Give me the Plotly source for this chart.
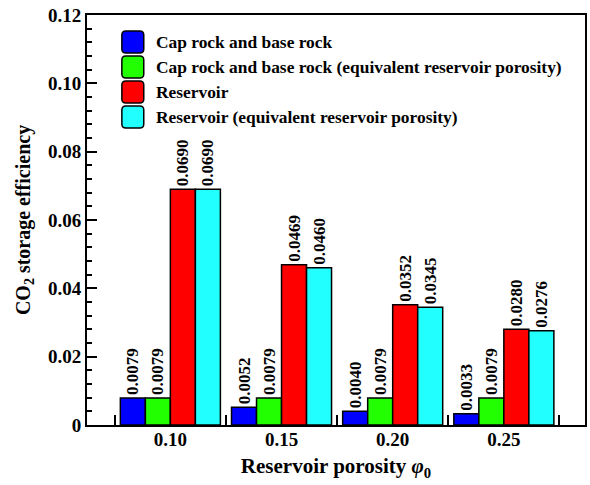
import plotly.graph_objects as go

# Reservoir porosity groups
porosity = ["0.10", "0.15", "0.20", "0.25"]

# CO2 storage efficiency per series
cap_base = [0.0079, 0.0052, 0.0040, 0.0033]
cap_base_equiv = [0.0079, 0.0079, 0.0079, 0.0079]
reservoir = [0.0690, 0.0469, 0.0352, 0.0280]
reservoir_equiv = [0.0690, 0.0460, 0.0345, 0.0276]

# Y-axis tick positions and labels
y_ticks = [0, 0.02, 0.04, 0.06, 0.08, 0.10, 0.12]
y_tick_labels = ["0", "0.02", "0.04", "0.06", "0.08", "0.10", "0.12"]

series_names = [
    "Cap rock and base rock",
    "Cap rock and base rock (equivalent reservoir porosity)",
    "Reservoir",
    "Reservoir (equivalent reservoir porosity)",
]
series_values = [cap_base, cap_base_equiv, reservoir, reservoir_equiv]
series_colors = ["#0000FF", "#22FF00", "#FF0000", "#22FFFF"]

FONT = "Liberation Serif"

fig = go.Figure()
for name, vals, col in zip(series_names, series_values, series_colors):
    fig.add_trace(go.Bar(
        x=porosity, y=vals, name=name,
        marker=dict(color=col, line=dict(color="black", width=1.5)),
        texttemplate="<b>%{y:.4f}</b>", textposition="outside",
        textangle=-90, constraintext="none", cliponaxis=False,
        textfont=dict(family=FONT, size=17, color="black"),
        showlegend=False,
    ))

# Plot-area geometry (pixels) used to place the hand-drawn legend
L, R, T, B = 87, 587, 15, 425
W, H = R - L, B - T


def px_x(p):
    return (p - L) / W


def px_y(p):
    return (B - p) / H


def rounded_box(x0, y0, x1, y1, r):
    rx, ry = r / W, r / H
    X0, X1 = px_x(x0), px_x(x1)
    Y0, Y1 = px_y(y0), px_y(y1)  # Y0 is top in paper coords
    return (f"M {X0 + rx},{Y0} L {X1 - rx},{Y0} Q {X1},{Y0} {X1},{Y0 - ry} "
            f"L {X1},{Y1 + ry} Q {X1},{Y1} {X1 - rx},{Y1} "
            f"L {X0 + rx},{Y1} Q {X0},{Y1} {X0},{Y1 + ry} "
            f"L {X0},{Y0 - ry} Q {X0},{Y0} {X0 + rx},{Y0} Z")


shapes = []
annotations = []
row_y = [42, 67, 92, 117]
for name, col, yc in zip(series_names, series_colors, row_y):
    shapes.append(dict(
        type="path", xref="paper", yref="paper",
        path=rounded_box(122, yc - 11, 144, yc + 11, 4),
        fillcolor=col, line=dict(color="black", width=1.5),
    ))
    annotations.append(dict(
        xref="paper", yref="paper", x=px_x(154), y=px_y(yc),
        xanchor="left", yanchor="middle", showarrow=False,
        text=f"<b>{name}</b>",
        font=dict(family=FONT, size=17.4, color="black"),
    ))

fig.update_layout(
    width=590, height=485,
    margin=dict(l=L, r=590 - R, t=T, b=485 - B),
    paper_bgcolor="white", plot_bgcolor="white",
    barmode="group", bargap=0.1, bargroupgap=0,
    font=dict(family=FONT, color="black"),
    shapes=shapes, annotations=annotations,
    showlegend=False,
)

fig.update_xaxes(
    type="category", range=[-0.75, 3.73],
    tickmode="array", tickvals=porosity,
    ticktext=[f"<b>{p}</b>" for p in porosity],
    tickson="boundaries", ticks="inside", ticklen=10, tickwidth=1.5,
    tickcolor="black", ticklabelstandoff=-4,
    showline=True, linecolor="black", linewidth=2, mirror=True,
    showgrid=False,
    tickfont=dict(family=FONT, size=19, color="black"),
    title=dict(text="<b>Reservoir porosity <i>φ</i><sub>0</sub></b>",
               font=dict(family=FONT, size=21, color="black"), standoff=10),
)

fig.update_yaxes(
    range=[0, 0.12], tickmode="array", tickvals=y_ticks,
    ticktext=[f"<b>{t}</b>" for t in y_tick_labels],
    ticks="inside", ticklen=10, tickwidth=1.5, tickcolor="black",
    minor=dict(tickmode="linear", tick0=0, dtick=0.004, ticks="inside",
               ticklen=5, tickwidth=1.5, tickcolor="black", showgrid=False),
    showline=True, linecolor="black", linewidth=2, mirror=True,
    showgrid=False, zeroline=False,
    tickfont=dict(family=FONT, size=19, color="black"),
    title=dict(text="<b>CO<sub>2</sub> storage efficiency</b>",
               font=dict(family=FONT, size=20, color="black"), standoff=12),
)

fig.write_html("out.html")
